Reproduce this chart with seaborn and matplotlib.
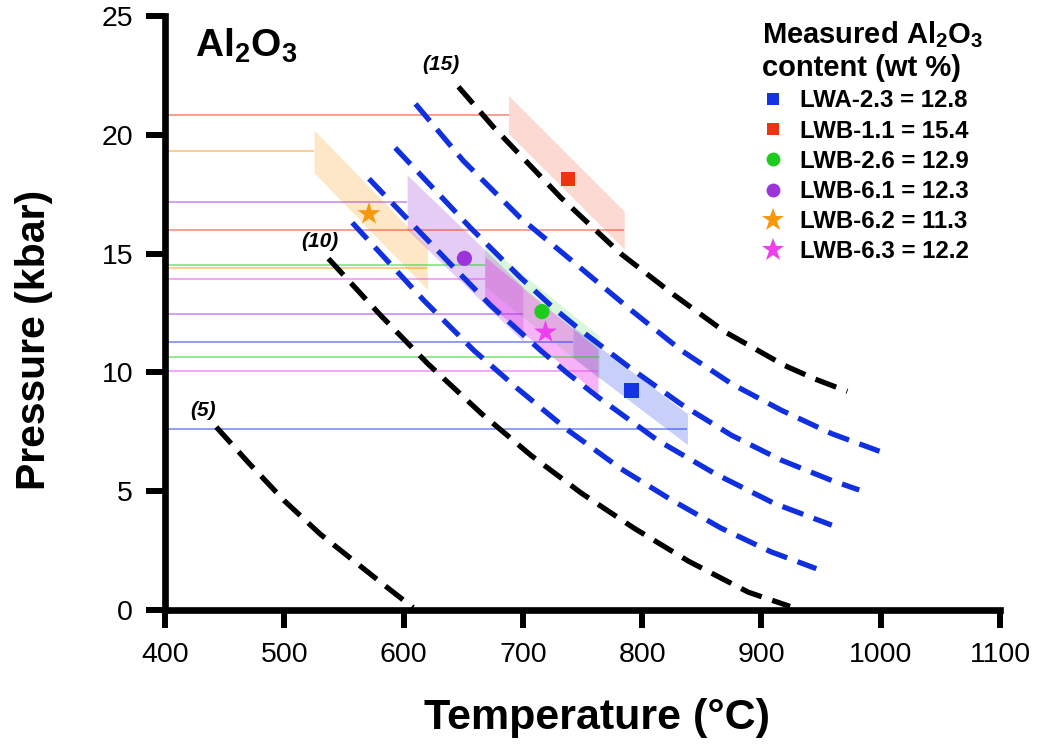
import matplotlib
matplotlib.use("Agg")
import matplotlib.pyplot as plt
from matplotlib.lines import Line2D
import seaborn as sns

# ---------------- data ----------------
samples = ["LWA-2.3", "LWB-1.1", "LWB-2.6", "LWB-6.1", "LWB-6.2", "LWB-6.3"]
al2o3 = ["12.8", "15.4", "12.9", "12.3", "11.3", "12.2"]
colors = ["#1432E6", "#F0330F", "#1ECC1E", "#9B35DB", "#F7980C", "#EE3FEE"]
markers = ["s", "s", "o", "o", "*", "*"]
band_alpha = [0.23, 0.18, 0.16, 0.25, 0.23, 0.40]

point_T = [791, 738, 716, 651, 571, 719]
point_P = [9.24, 18.14, 12.56, 14.80, 16.67, 11.69]

band_T1 = [742, 688, 668, 603, 525, 668]
band_T2 = [838, 785, 764, 700, 620, 763]
band_P1 = [11.27, 20.85, 14.53, 17.16, 19.30, 13.92]
band_P2 = [7.61, 15.98, 10.63, 12.47, 14.38, 10.04]
band_hw = [0.65, 0.80, 0.90, 1.15, 0.90, 0.95]

# isopleths (black: 5, 10, 15; blue: intermediate)
iso5_T = [443, 470, 500, 530, 560, 585, 608]
iso5_P = [7.7, 6.2, 4.6, 3.2, 2.0, 1.0, 0.1]
iso10_T = [537, 581, 620, 665, 707, 749, 793, 839, 889, 924]
iso10_P = [14.79, 12.39, 10.38, 8.28, 6.50, 4.92, 3.45, 2.05, 0.75, 0.15]
iso15_T = [646, 676, 732, 782, 827, 869, 919, 945, 972]
iso15_P = [22.02, 20.29, 17.35, 15.00, 13.25, 11.72, 10.30, 9.72, 9.20]
isoA_T = [557, 617, 659, 696, 738, 782, 824, 866, 908, 946]
isoA_P = [16.30, 13.03, 10.92, 9.30, 7.56, 5.95, 4.65, 3.45, 2.45, 1.74]
isoB_T = [571, 642, 673, 715, 738, 763, 813, 861, 911, 959]
isoB_P = [18.15, 14.42, 12.82, 10.92, 9.94, 8.96, 7.14, 5.74, 4.48, 3.57]
isoC_T = [593, 656, 698, 726, 749, 791, 833, 875, 917, 959, 982]
isoC_P = [19.45, 16.09, 13.99, 12.70, 11.75, 10.15, 8.65, 7.35, 6.30, 5.45, 5.05]
isoD_T = [610, 650, 698, 749, 791, 833, 875, 917, 959, 999]
isoD_P = [21.30, 18.91, 16.50, 14.37, 12.61, 10.92, 9.52, 8.40, 7.42, 6.68]

iso_labels = ["(5)", "(10)", "(15)"]
iso_label_T = [432, 530, 631]
iso_label_P = [8.40, 15.50, 22.94]

xticks = [400, 500, 600, 700, 800, 900, 1000, 1100]
yticks = [0, 5, 10, 15, 20, 25]

# ---------------- style ----------------
sns.set_theme(style="ticks")
plt.rcParams["font.family"] = ["Liberation Sans", "DejaVu Sans"]
plt.rcParams["mathtext.fontset"] = "custom"
plt.rcParams["mathtext.bf"] = "Liberation Sans:bold"
plt.rcParams["mathtext.rm"] = "Liberation Sans"
plt.rcParams["text.color"] = "black"
plt.rcParams["axes.labelcolor"] = "black"
plt.rcParams["xtick.color"] = "black"
plt.rcParams["ytick.color"] = "black"

fig = plt.figure(figsize=(10.38, 7.45), dpi=100)
ax = fig.add_axes([165 / 1038, 1 - 610 / 745, 835 / 1038, 594 / 745])
ax.set_facecolor("white")

# bands and reference lines
for i in range(len(samples)):
    c = colors[i]
    ax.fill_between([band_T1[i], band_T2[i]],
                    [band_P1[i] - band_hw[i], band_P2[i] - band_hw[i]],
                    [band_P1[i] + band_hw[i], band_P2[i] + band_hw[i]],
                    color=c, alpha=band_alpha[i], lw=0, zorder=1)
    ax.hlines([band_P1[i]], 400, band_T1[i], color=c, alpha=0.55, lw=1.2, zorder=2)
    ax.hlines([band_P2[i]], 400, band_T2[i], color=c, alpha=0.55, lw=1.2, zorder=2)

dash = (0, (4.2, 2.1))
blue_line = "#1030E0"
for T, P, c in [(isoA_T, isoA_P, blue_line), (isoB_T, isoB_P, blue_line),
                (isoC_T, isoC_P, blue_line), (isoD_T, isoD_P, blue_line),
                (iso5_T, iso5_P, "black"), (iso10_T, iso10_P, "black"),
                (iso15_T, iso15_P, "black")]:
    sns.lineplot(x=T, y=P, sort=False, estimator=None, color=c, lw=3.8,
                 linestyle=dash, ax=ax, zorder=3)

for lab, t, p in zip(iso_labels, iso_label_T, iso_label_P):
    ax.text(t, p, lab, fontsize=15, fontweight="bold", fontstyle="italic",
            ha="center", va="center", zorder=5, color="black")

# points
for i in range(len(samples)):
    s = 300 if markers[i] == "*" else (120 if markers[i] == "o" else 105)
    sns.scatterplot(x=[point_T[i]], y=[point_P[i]], marker=markers[i], s=s,
                    color=colors[i], edgecolor="none", linewidth=0, ax=ax, zorder=6)

ax.text(425, 23.75, r"Al$_\mathbf{2}$O$_\mathbf{3}$", fontsize=28,
        fontweight="bold", ha="left", va="center", color="black")

# axes
ax.set_xlim(400, 1100)
ax.set_ylim(0, 25)
ax.set_xticks(xticks)
ax.set_yticks(yticks)
ax.tick_params(axis="both", labelsize=20.5, width=4.3, color="black",
               labelcolor="black", direction="out", bottom=True, left=True)
ax.tick_params(axis="y", length=14, pad=9)
ax.tick_params(axis="x", length=13, pad=10)
for side in ["top", "right"]:
    ax.spines[side].set_visible(False)
for side in ["left", "bottom"]:
    ax.spines[side].set_linewidth(4.8)
    ax.spines[side].set_color("black")
    ax.spines[side].set_capstyle("projecting")

ax.set_xlabel("Temperature (°C)", fontsize=31, fontweight="bold", color="black")
ax.set_ylabel("Pressure (kbar)", fontsize=29.5, fontweight="bold", color="black")
ax.xaxis.set_label_coords(0.517, -0.148)
ax.yaxis.set_label_coords(-0.134, 0.455)

# legend
handles = []
for i in range(len(samples)):
    ms = 17 if markers[i] == "*" else (10 if markers[i] == "o" else 9)
    handles.append(Line2D([], [], linestyle="none", marker=markers[i], color=colors[i],
                          markeredgewidth=0, markersize=ms,
                          label=f"{samples[i]} = {al2o3[i]}"))
leg = fig.legend(handles=handles,
                 title="Measured Al$_\\mathbf{2}$O$_\\mathbf{3}$\ncontent (wt %)",
                 loc="upper left", bbox_to_anchor=(762 / 1038, 1 - 19 / 745),
                 frameon=False, borderpad=0, borderaxespad=0,
                 handlelength=0.95, handletextpad=0.65, labelspacing=0.30,
                 prop={"size": 17.3, "weight": "bold"},
                 title_fontproperties={"size": 21, "weight": "bold"},
                 alignment="left", labelcolor="black")
leg.get_title().set_color("black")

fig.savefig("out.png", dpi=100, facecolor="white")
